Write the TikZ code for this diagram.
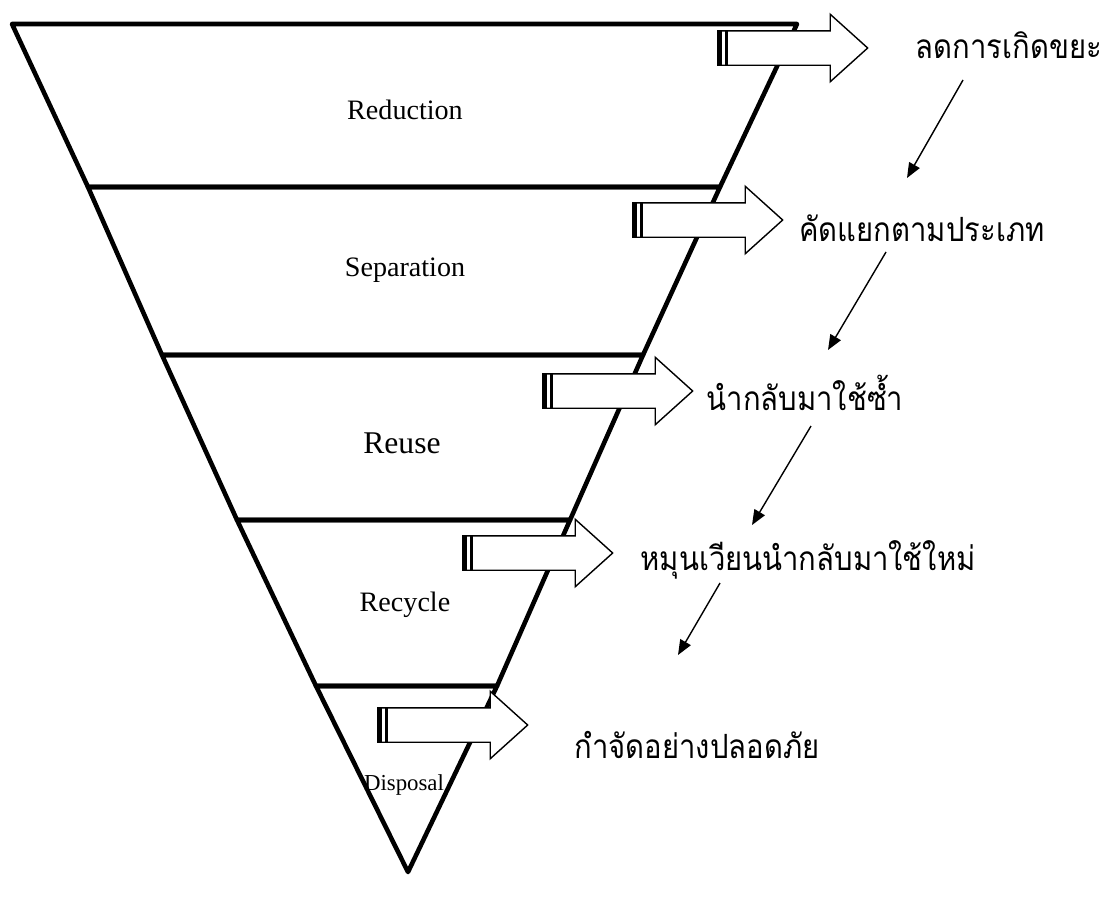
\documentclass[tikz,border=0pt]{standalone}
\usepackage{fontspec}
\setmainfont{Liberation Serif}
\newfontfamily\thaifont[Script=Thai]{Loma}
\usetikzlibrary{arrows.meta,shapes.arrows}

\begin{document}
\begin{tikzpicture}[x=0.02cm, y=-0.02cm,
    band/.style={line width=2.6pt, line join=round},
    stage/.style={inner sep=0, font=\fontsize{#1pt}{#1pt}\selectfont},
    thai/.style={inner sep=0, font=\thaifont\fontsize{19pt}{23pt}\selectfont},
    blockarrow/.style={single arrow, draw, fill=white, line width=0.8pt,
      minimum height=3cm, inner xsep=0, inner ysep=0.33cm,
      single arrow head extend=0.33cm, single arrow tip angle=84, anchor=tail},
    flow/.style={-{Triangle[length=0.3cm,width=0.24cm]}, line width=0.8pt}]
  \useasboundingbox (0,0) rectangle (1104,900);

  % inverted pyramid, one band per stage
  \draw[band] (12,24) -- (797,24) -- (720,187) -- (88,187) -- cycle;
  \draw[band] (88,187) -- (720,187) -- (643,355) -- (162,355) -- cycle;
  \draw[band] (162,355) -- (643,355) -- (570,520) -- (237,520) -- cycle;
  \draw[band] (237,520) -- (570,520) -- (497,686) -- (316,686) -- cycle;
  \draw[band] (316,686) -- (497,686) -- (408,872) -- cycle;

  \node[stage=16] (red) at (405,110) {Reduction};
  \node[stage=16] (sep) at (405,270) {Separation};
  \node[stage=18] (reu) at (402,443) {Reuse};
  \node[stage=16] (rec) at (405,605) {Recycle};
  \node[stage=13] (dis) at (404,785) {Disposal};

  % block arrows out of each band, striped tail
  \node[blockarrow] (toRed) at (717,48) {};
  \node[blockarrow] (toSep) at (632,220) {};
  \node[blockarrow] (toReu) at (542,391) {};
  \node[blockarrow] (toRec) at (462,553) {};
  \node[blockarrow] (toDis) at (377,725) {};
  \foreach \a in {toRed,toSep,toReu,toRec,toDis} {
    \fill (\a.before tail) rectangle ([xshift=0.1cm]\a.after tail);
    \fill ([xshift=0.15cm]\a.before tail) rectangle ([xshift=0.21cm]\a.after tail);
  }

  \node[thai] (thRed) at (1009,45) {\scalebox{0.875}[1]{ลดการเกิดขยะ}};
  \node[thai] (thSep) at (922,228) {\scalebox{0.875}[1]{คัดแยกตามประเภท}};
  \node[thai] (thReu) at (805,393) {\scalebox{0.875}[1]{นำกลับมาใช้ซ้ำ}};
  \node[thai] (thRec) at (808,560) {\scalebox{0.875}[1]{หมุนเวียนนำกลับมาใช้ใหม่}};
  \node[thai] (thDis) at (697,745) {\scalebox{0.875}[1]{กำจัดอย่างปลอดภัย}};

  \coordinate (f1) at (963,80);  \coordinate (f1e) at (907,178);
  \coordinate (f2) at (886,252); \coordinate (f2e) at (828,350);
  \coordinate (f3) at (811,426); \coordinate (f3e) at (752,525);
  \coordinate (f4) at (720,583); \coordinate (f4e) at (678,655);
  \draw[flow] (f1) -- (f1e);
  \draw[flow] (f2) -- (f2e);
  \draw[flow] (f3) -- (f3e);
  \draw[flow] (f4) -- (f4e);
\end{tikzpicture}
\end{document}
